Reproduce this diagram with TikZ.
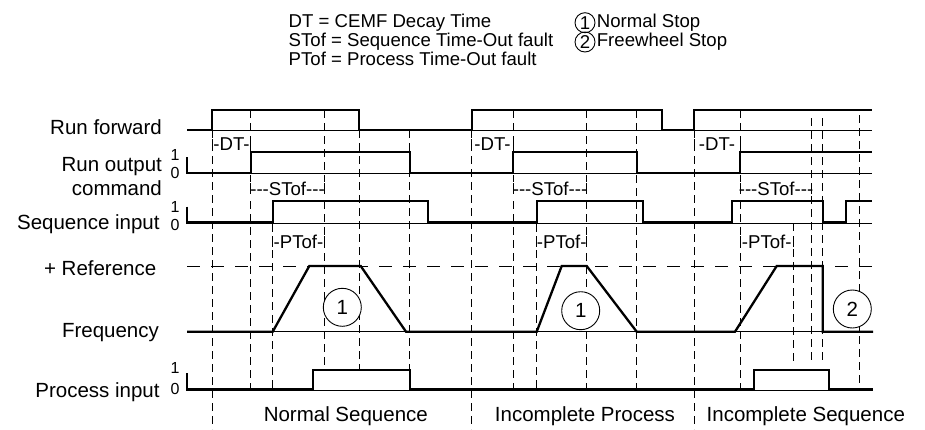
\documentclass[tikz,border=0pt]{standalone}
\usepackage{fontspec}
\setmainfont{Liberation Sans}
\usetikzlibrary{positioning}

\begin{document}
\begin{tikzpicture}[x=0.5pt,y=-0.5pt,
  sig/.style={line width=1.15pt,line join=miter},
  base/.style={line width=0.4pt},
  guide/.style={line width=0.45pt,dash pattern=on 4pt off 2.5pt},
  refline/.style={line width=0.45pt,dash pattern=on 6.5pt off 5.5pt},
  lbl/.style={anchor=base east,inner sep=0pt,font=\fontsize{10.25}{12}\selectfont},
  lvl/.style={inner sep=0pt,font=\fontsize{8}{9}\selectfont},
  interval/.style={inner sep=0pt,fill=white,font=\fontsize{9.3}{11}\selectfont},
  leg/.style={anchor=base west,inner sep=0pt,font=\fontsize{9.3}{11}\selectfont},
  stopmark/.style={draw,circle,fill=white,line width=0.45pt,minimum size=19pt,inner sep=0pt,font=\fontsize{10.25}{12}\selectfont},
  legmark/.style={draw,circle,line width=0.45pt,minimum size=10pt,inner sep=0pt,font=\fontsize{9.3}{11}\selectfont}]
\useasboundingbox (0,0) rectangle (925,429);

% legend
\node[leg] (legdt) at (288.3,27.3) {DT = CEMF Decay Time};
\node[leg] (legst) at (288.3,46.5) {STof = Sequence Time-Out fault};
\node[leg] (legpt) at (288.3,65.7) {PTof = Process Time-Out fault};
\node[legmark] (mark1) at (585,22.7) {1};
\node[legmark] (mark2) at (585,42) {2};
\node[leg,anchor=west,right=0.5pt of mark1] (legnormal) {Normal Stop};
\node[leg,anchor=west,right=0.5pt of mark2] (legfree) {Freewheel Stop};

% time marks
\draw[guide] (212.3,130) -- (212.3,429);
\draw[guide] (250.7,110) -- (250.7,389);
\draw[guide] (272.7,224) -- (272.7,389);
\draw[guide] (324.3,110) -- (324.3,370);
\draw[guide] (359,130) -- (359,370);
\draw[guide] (409.3,130) -- (409.3,370);
\draw[guide] (471.7,130) -- (471.7,429);
\draw[guide] (513.3,110) -- (513.3,389);
\draw[guide] (536.7,224) -- (536.7,389);
\draw[guide] (586.7,110) -- (586.7,389);
\draw[guide] (636.7,110) -- (636.7,389);
\draw[guide] (694,130) -- (694,429);
\draw[guide] (740,110) -- (740,389);
\draw[guide] (793.3,223) -- (793.3,363);
\draw[guide] (811.7,118) -- (811.7,363);
\draw[guide] (822.7,118) -- (822.7,363);
\draw[guide] (859,115) -- (859,389);
\draw[refline] (187,266) -- (872,266);

% baselines
\draw[base] (187,130.5) -- (872,130.5);
\draw[base] (187,173.3) -- (872,173.3);
\draw[base] (187,223) -- (872,223);
\draw[base] (187,331.7) -- (873,331.7);
\draw[base] (187,390) -- (873,390);

% signals
\draw[sig] (187,130) -- (212.3,130) -- (212.3,110) -- (359,110) -- (359,130) -- (471.7,130)
  -- (471.7,110) -- (662.3,110) -- (662.3,130) -- (694,130) -- (694,110) -- (872,110);
\draw[sig] (187,157.3) -- (187,173.3) -- (250.7,173.3) -- (250.7,151.7) -- (410,151.7) -- (410,173.3)
  -- (513.3,173.3) -- (513.3,151.7) -- (636.7,151.7) -- (636.7,173.3) -- (740,173.3)
  -- (740,151.7) -- (872,151.7);
\draw[sig] (187,206.7) -- (187,222.5) -- (272.7,222.5) -- (272.7,201) -- (427.7,201) -- (427.7,222.5)
  -- (536.7,222.5) -- (536.7,201) -- (643.3,201) -- (643.3,222.5) -- (731.7,222.5)
  -- (731.7,201) -- (822.7,201) -- (822.7,222.5) -- (846,222.5) -- (846,201) -- (872,201);
\draw[sig] (187,331.7) -- (272.7,331.7) -- (309.3,266) -- (360.7,266) -- (406,331.7)
  -- (536.7,331.7) -- (561.7,266) -- (586.7,266) -- (636.7,331.7) -- (735,331.7)
  -- (776.7,266) -- (822.7,266) -- (822.7,331.7) -- (873,331.7);
\draw[sig] (187,373) -- (187,389.5) -- (313.3,389.5) -- (313.3,370) -- (410,370) -- (410,389.5)
  -- (754,389.5) -- (754,370) -- (829.3,370) -- (829.3,389.5) -- (873,389.5);

% intervals
\node[interval] (dt1) at (231.5,144.5) {-DT-};
\node[interval] (dt2) at (492.5,144.5) {-DT-};
\node[interval] (dt3) at (717,144.5) {-DT-};
\node[interval] (st1) at (287.5,189) {-{}-{}-STof-{}-{}-};
\node[interval] (st2) at (550,189) {-{}-{}-STof-{}-{}-};
\node[interval] (st3) at (776,189) {-{}-{}-STof-{}-{}-};
\node[interval] (pt1) at (298.5,242) {-PTof-};
\node[interval] (pt2) at (561.7,242) {-PTof-};
\node[interval] (pt3) at (766.7,242) {-PTof-};
\draw[base] (212.3,139) -- (212.3,150) (250.7,139) -- (250.7,150);
\draw[base] (471.7,139) -- (471.7,150) (513.3,139) -- (513.3,150);
\draw[base] (694,139) -- (694,150) (740,139) -- (740,150);
\draw[base] (250.7,183) -- (250.7,194) (324.3,183) -- (324.3,194);
\draw[base] (513.3,183) -- (513.3,194) (586.7,183) -- (586.7,194);
\draw[base] (740,183) -- (740,194) (811.7,183) -- (811.7,194);
\draw[base] (272.7,236) -- (272.7,247) (324.3,236) -- (324.3,247);
\draw[base] (536.7,236) -- (536.7,247) (586.7,236) -- (586.7,247);
\draw[base] (740,236) -- (740,247) (793.3,236) -- (793.3,247);

% stop marks
\node[stopmark] (stopa) at (342.3,307.3) {1};
\node[stopmark] (stopb) at (580.7,310.7) {1};
\node[stopmark] (stopc) at (852.3,309) {2};

% signal names
\node[lbl] (runfwd) at (162.3,134) {Run forward};
\node[lbl] (runout) at (162.3,171.7) {Run output};
\node[lbl] (runcmd) at (162.3,195) {command};
\node[lbl] (seqin) at (160,229.3) {Sequence input};
\node[lbl] (reference) at (156.7,275) {+ Reference};
\node[lbl] (freq) at (159.3,337.3) {Frequency};
\node[lbl] (procin) at (160,397.7) {Process input};
\node[lvl] (ro1) at (175,155) {1};
\node[lvl] (ro0) at (175,173.3) {0};
\node[lvl] (si1) at (175,207) {1};
\node[lvl] (si0) at (175,225) {0};
\node[lvl] (pi1) at (175,368) {1};
\node[lvl] (pi0) at (175,389) {0};

% sequences
\node[lbl,anchor=base] (normalseq) at (345.8,421.7) {Normal Sequence};
\node[lbl,anchor=base] (incproc) at (585,421.7) {Incomplete Process};
\node[lbl,anchor=base] (incseq) at (805.8,421.7) {Incomplete Sequence};
\end{tikzpicture}
\end{document}
